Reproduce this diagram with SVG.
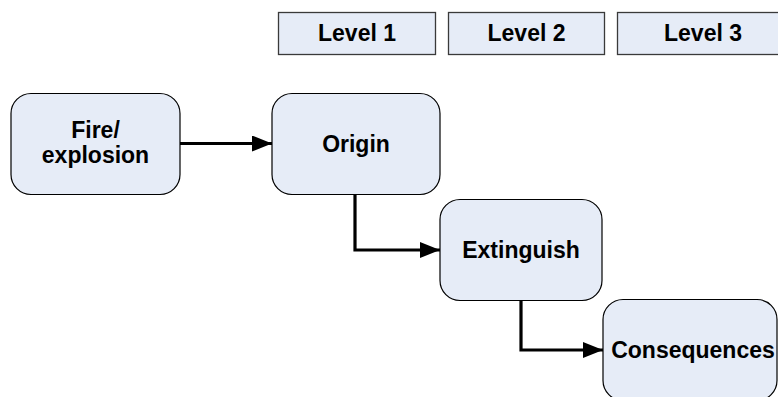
<svg xmlns="http://www.w3.org/2000/svg" width="778" height="397" viewBox="0 0 778 397">
<style>
.lvl{fill:#e6ecf7;stroke:#3a3a3a;stroke-width:1.3}
.node{fill:#e6ecf7;stroke:#000;stroke-width:1.2}
text{font-family:"Liberation Sans",Arial,sans-serif;font-weight:bold;font-size:23px;fill:#000;text-anchor:middle}
.conn{fill:none;stroke:#000;stroke-width:3.2}
</style>
<defs>
<marker id="ah" viewBox="0 0 20 16" refX="20" refY="8" markerWidth="20" markerHeight="16" markerUnits="userSpaceOnUse" orient="auto">
<path d="M0,0 L20,8 L0,16 Z" fill="#000"/>
</marker>
</defs>
<rect width="778" height="397" fill="#fff"/>
<g id="level1"><rect class="lvl" x="278.5" y="12.5" width="157" height="42"/><text x="357" y="41">Level 1</text></g>
<g id="level2"><rect class="lvl" x="448.5" y="12.5" width="156" height="42"/><text x="526.5" y="41">Level 2</text></g>
<g id="level3"><rect class="lvl" x="617.5" y="12.5" width="172" height="42"/><text x="703" y="41">Level 3</text></g>
<g id="fire"><rect class="node" x="11" y="93.5" width="169" height="101" rx="20"/><text x="95.5" y="137.5">Fire/</text><text x="95.5" y="163">explosion</text></g>
<g id="origin"><rect class="node" x="272" y="93.5" width="168" height="101" rx="20"/><text x="356" y="151.5">Origin</text></g>
<g id="extinguish"><rect class="node" x="440" y="199.5" width="162" height="101" rx="20"/><text x="521" y="257.5">Extinguish</text></g>
<g id="consequences"><rect class="node" x="603" y="299.5" width="174" height="101" rx="20"/><text x="693" y="357.5">Consequences</text></g>
<g id="connectors">
<path class="conn" d="M180,143.5 H272" marker-end="url(#ah)"/>
<path class="conn" d="M355,194.5 V250 H440" marker-end="url(#ah)"/>
<path class="conn" d="M521,300.5 V350 H603" marker-end="url(#ah)"/>
</g>
</svg>
